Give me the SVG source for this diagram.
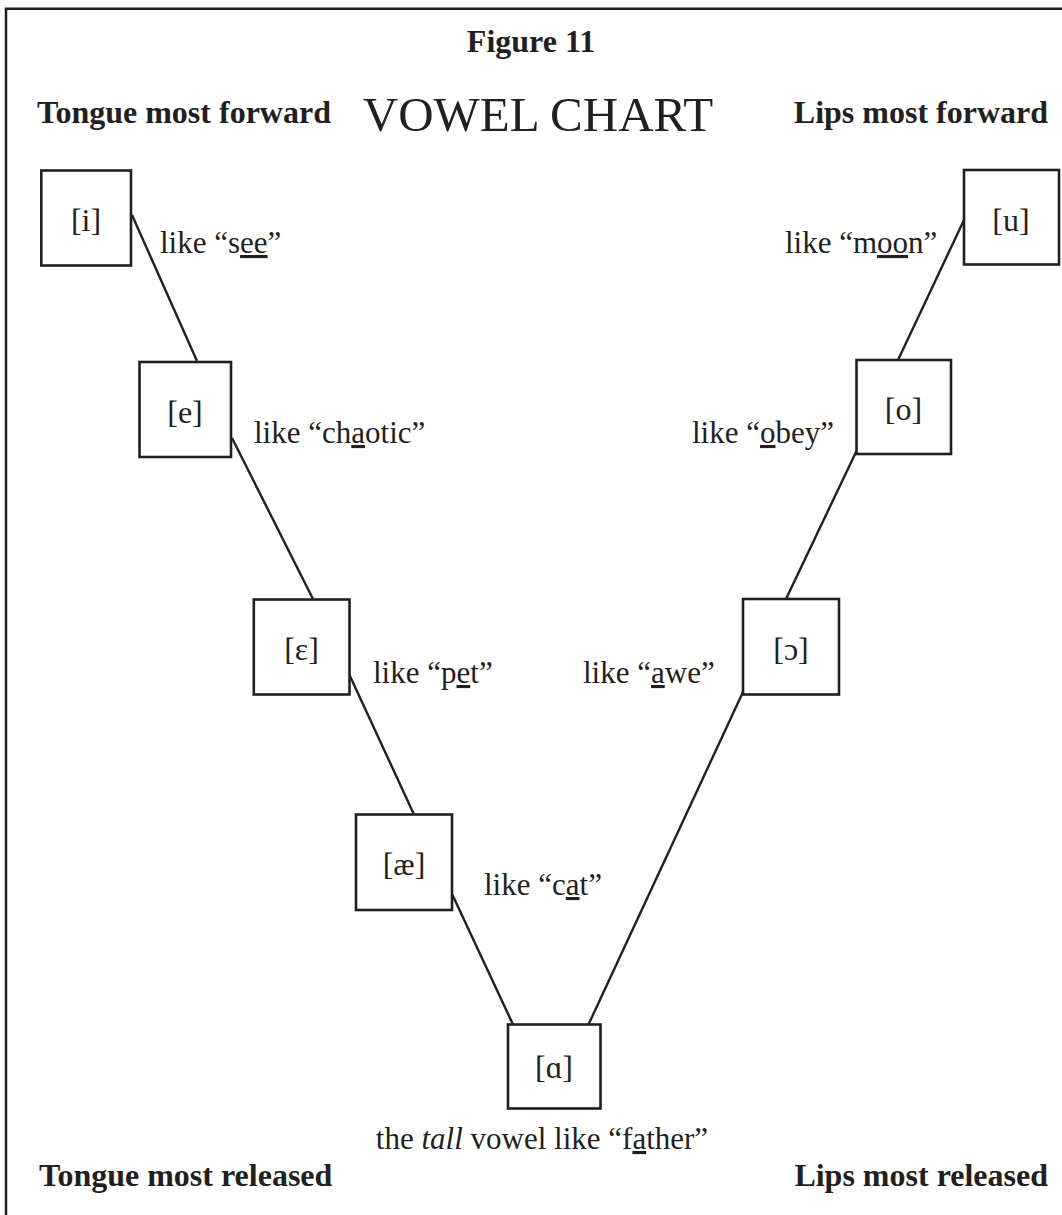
<svg xmlns="http://www.w3.org/2000/svg" width="1062" height="1215" viewBox="0 0 1062 1215">
<style>
.frame{fill:none;stroke:#231f20;stroke-width:2.5}
.box{fill:#ffffff;stroke:#231f20;stroke-width:2.6}
.ipa{font-family:"Liberation Serif","DejaVu Serif",serif;font-size:32px;fill:#231f20;text-anchor:middle}
.lbl{font-family:"Liberation Serif","DejaVu Serif",serif;font-size:31px;fill:#231f20}
.bold{font-family:"Liberation Serif",serif;font-weight:bold;font-size:32px;fill:#231f20}
.title{font-family:"Liberation Serif",serif;font-size:49px;fill:#231f20}
.u{text-decoration:underline}
.conn line{stroke:#231f20;stroke-width:2.4}
</style>
<rect x="0" y="0" width="1062" height="1215" fill="#ffffff"/>
<path class="frame" d="M6,1215 V8.7 H1062"/>
<g id="headings">
<text class="bold" x="531" y="52" text-anchor="middle" font-size="30">Figure 11</text>
<text class="title" x="538" y="131" text-anchor="middle">VOWEL CHART</text>
<text class="bold" x="37" y="123">Tongue most forward</text>
<text class="bold" x="1048" y="123" text-anchor="end">Lips most forward</text>
<text class="bold" x="39" y="1186">Tongue most released</text>
<text class="bold" x="1048" y="1186" text-anchor="end">Lips most released</text>
</g>
<g id="connectors" class="conn">
<line x1="132" y1="215" x2="197" y2="361"/>
<line x1="232" y1="438" x2="313" y2="599"/>
<line x1="349.5" y1="675" x2="414" y2="814.5"/>
<line x1="452.5" y1="895" x2="513" y2="1024.5"/>
<line x1="964" y1="220" x2="898" y2="360"/>
<line x1="856.5" y1="451" x2="786" y2="599"/>
<line x1="743" y1="692" x2="588.5" y2="1024.5"/>
</g>
<g id="node-i">
<rect class="box" x="41.3" y="170.5" width="89.7" height="95"/>
<text class="ipa" x="86" y="231">[i]</text>
<text class="lbl" x="160" y="253">like “s<tspan class="u">ee</tspan>”</text>
</g>
<g id="node-e">
<rect class="box" x="139.5" y="362" width="91.5" height="95"/>
<text class="ipa" x="185" y="423">[e]</text>
<text class="lbl" x="254" y="443">like “ch<tspan class="u">a</tspan>otic”</text>
</g>
<g id="node-epsilon">
<rect class="box" x="253.8" y="599.5" width="95.7" height="95"/>
<text class="ipa" x="301.5" y="660">[ɛ]</text>
<text class="lbl" x="373" y="683">like “p<tspan class="u">e</tspan>t”</text>
</g>
<g id="node-ae">
<rect class="box" x="356" y="814.5" width="96" height="95.5"/>
<text class="ipa" x="404" y="875">[æ]</text>
<text class="lbl" x="484" y="895">like “c<tspan class="u">a</tspan>t”</text>
</g>
<g id="node-alpha">
<rect class="box" x="508" y="1024.5" width="92.5" height="84"/>
<text class="ipa" x="554" y="1078">[ɑ]</text>
<text class="lbl" x="542" y="1149" text-anchor="middle">the <tspan font-style="italic">tall</tspan> vowel like “f<tspan class="u">a</tspan>ther”</text>
</g>
<g id="node-u">
<rect class="box" x="964" y="170" width="95" height="94.5"/>
<text class="ipa" x="1011" y="231">[u]</text>
<text class="lbl" x="785" y="253">like “m<tspan class="u">oo</tspan>n”</text>
</g>
<g id="node-o">
<rect class="box" x="856.5" y="360" width="94.5" height="94"/>
<text class="ipa" x="903.5" y="420">[o]</text>
<text class="lbl" x="692" y="443">like “<tspan class="u">o</tspan>bey”</text>
</g>
<g id="node-openo">
<rect class="box" x="743" y="599" width="96" height="95.5"/>
<text class="ipa" x="791" y="660">[ɔ]</text>
<text class="lbl" x="583" y="683">like “<tspan class="u">a</tspan>we”</text>
</g>
</svg>
